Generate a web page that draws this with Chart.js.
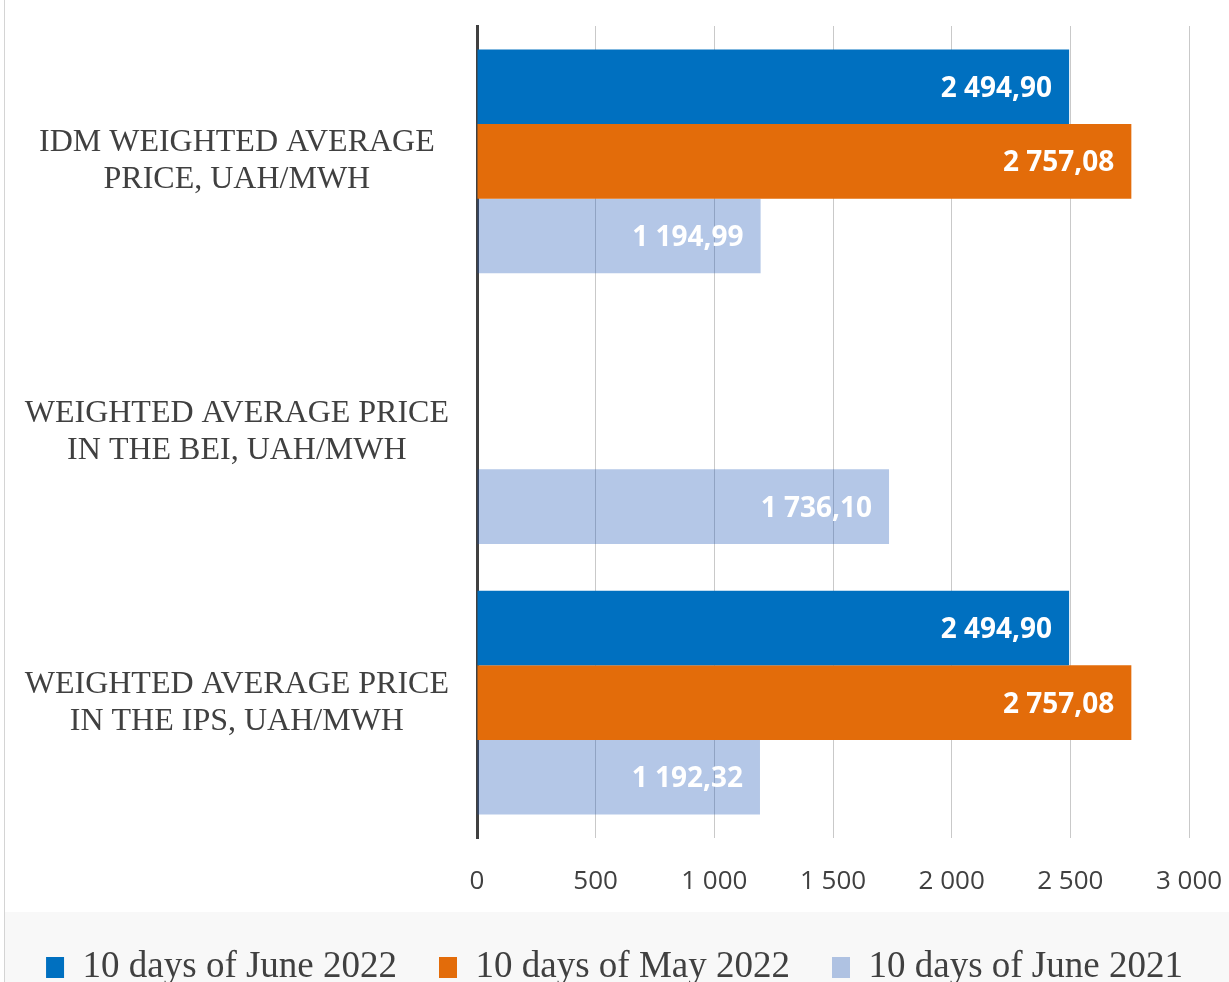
<!DOCTYPE html>
<html><head><meta charset="utf-8">
<script src="https://cdn.jsdelivr.net/npm/chart.js@4.4.0/dist/chart.umd.min.js"></script>
<style>html,body{margin:0;padding:0;background:#fff;overflow:hidden;width:1229px;height:982px}canvas{display:block}</style>
</head><body><canvas id="c" width="1229" height="996"></canvas>
<script>
const categories = [
  ["IDM WEIGHTED AVERAGE", "PRICE, UAH/MWH"],
  ["WEIGHTED AVERAGE PRICE", "IN THE BEI, UAH/MWH"],
  ["WEIGHTED AVERAGE PRICE", "IN THE IPS, UAH/MWH"]
];
const seriesNames = ["10 days of June 2022", "10 days of May 2022", "10 days of June 2021"];
const june2022 = [2494.90, null, 2494.90];
const may2022 = [2757.08, null, 2757.08];
const june2021 = [1194.99, 1736.10, 1192.32];
const xTicks = [0, 500, 1000, 1500, 2000, 2500, 3000];

function fmt(v, dec) {
  const s = v.toFixed(dec);
  const parts = s.split('.');
  const ip = parts[0].replace(/\B(?=(\d{3})+(?!\d))/g, ' ');
  return parts[1] ? ip + ',' + parts[1] : ip;
}

const bgPlugin = {
  id: 'bg',
  beforeDraw(chart) {
    const ctx = chart.ctx;
    ctx.save();
    ctx.fillStyle = '#f8f8f8';
    ctx.fillRect(5, chart.legend.top + 5, chart.width, chart.height);
    ctx.strokeStyle = '#d4d4d4';
    ctx.lineWidth = 1;
    ctx.beginPath();
    ctx.moveTo(4.5, 0);
    ctx.lineTo(4.5, chart.height);
    ctx.stroke();
    ctx.restore();
  }
};

const labelPlugin = {
  id: 'vals',
  afterDatasetsDraw(chart) {
    const ctx = chart.ctx;
    ctx.save();
    ctx.font = 'bold 28px "Open Sans"';
    ctx.fillStyle = '#ffffff';
    ctx.textAlign = 'right';
    ctx.textBaseline = 'middle';
    chart.data.datasets.forEach((ds, i) => {
      const meta = chart.getDatasetMeta(i);
      meta.data.forEach((el, j) => {
        const v = ds.data[j];
        if (v == null) return;
        ctx.fillText(fmt(v, 2), el.x - 17, el.y + 2);
      });
    });
    ctx.restore();
  }
};

new Chart(document.getElementById('c'), {
  type: 'bar',
  data: {
    labels: categories,
    datasets: [
      { label: seriesNames[0], data: june2022, backgroundColor: '#0070c0', borderWidth: 0 },
      { label: seriesNames[1], data: may2022, backgroundColor: '#e36c0a', borderWidth: 0 },
      { label: seriesNames[2], data: june2021, backgroundColor: 'rgba(27,85,182,0.33)', borderWidth: 0 }
    ]
  },
  options: {
    indexAxis: 'y',
    responsive: false,
    animation: false,
    categoryPercentage: 0.827,
    barPercentage: 1,
    layout: { padding: { top: 26, left: 0, right: 0, bottom: 0 } },
    plugins: {
      tooltip: { enabled: false },
      legend: {
        position: 'bottom',
        labels: {
          font: { family: '"Liberation Serif", "Times New Roman", serif', size: 37 },
          color: '#404040',
          boxWidth: 18,
          boxHeight: 21,
          padding: 42
        }
      }
    },
    scales: {
      x: {
        min: 0,
        max: 3000,
        afterBuildTicks(scale) { scale.ticks = xTicks.map(v => ({ value: v })); },
        afterFit(scale) { scale.height = 69; scale.paddingRight = 40; scale.paddingLeft = 0; },
        grid: { color: '#c9c9c9', lineWidth: 1, drawTicks: false },
        border: { display: false },
        ticks: {
          padding: 28,
          color: '#404040',
          font: { family: '"Open Sans", sans-serif', size: 26 },
          callback: (v) => fmt(v, 0)
        }
      },
      y: {
        afterFit(scale) { scale.width = 477; scale.paddingTop = 0; scale.paddingBottom = 0; },
        grid: { display: false, drawTicks: false },
        border: { display: true, color: '#404040', width: 3 },
        ticks: {
          crossAlign: 'center',
          padding: 28,
          color: '#404040',
          font: { family: '"Liberation Serif", "Times New Roman", serif', size: 32, lineHeight: 1.156 }
        }
      }
    }
  },
  plugins: [bgPlugin, labelPlugin]
});
</script>
</body></html>
